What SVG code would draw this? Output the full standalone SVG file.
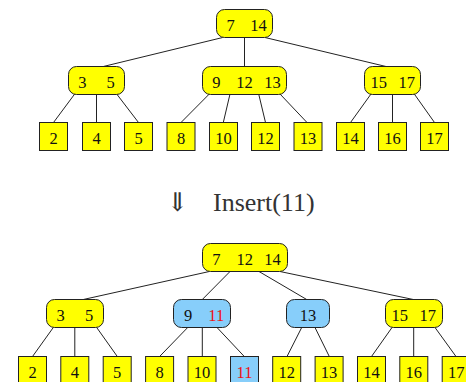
<svg xmlns="http://www.w3.org/2000/svg" width="466" height="382" viewBox="0 0 466 382">
  <style>
    .yel { fill: #ffff00; stroke: #222; stroke-width: 1; }
    .blu { fill: #87cefa; stroke: #222; stroke-width: 1; }
    .k { font-family: "Liberation Serif", "Times New Roman", serif; font-size: 16.5px; fill: #111; text-anchor: middle; }
    .red { fill: #ee1111; }
    .edge { stroke: #222; stroke-width: 1; fill: none; }
    .cap { font-family: "Liberation Serif", "DejaVu Serif", serif; font-size: 26px; fill: #333; }
  </style>

  <!-- ===== Tree before insertion ===== -->
  <g id="edges-before" class="edge">
    <line x1="222.7" y1="37.5" x2="103.3" y2="66.5"/>
    <line x1="244.5" y1="37.5" x2="244.5" y2="66.5"/>
    <line x1="265" y1="37.5" x2="386" y2="66.5"/>
    <line x1="74.7" y1="94" x2="53.5" y2="122.5"/>
    <line x1="96.5" y1="94" x2="96.5" y2="122.5"/>
    <line x1="116.7" y1="94" x2="138.5" y2="122.5"/>
    <line x1="209.3" y1="94" x2="181" y2="122.5"/>
    <line x1="230" y1="94" x2="223.3" y2="122.5"/>
    <line x1="258.7" y1="94" x2="265.5" y2="122.5"/>
    <line x1="280" y1="94" x2="307" y2="122.5"/>
    <line x1="371" y1="94" x2="350.5" y2="122.5"/>
    <line x1="392.5" y1="94" x2="392.5" y2="122.5"/>
    <line x1="414.3" y1="94" x2="434.5" y2="122.5"/>
  </g>

  <g id="b-root">
    <rect class="yel" x="216.5" y="9.5" width="56" height="28" rx="8"/>
    <text class="k" x="230.5" y="30.8">7</text>
    <text class="k" x="258.5" y="30.8">14</text>
  </g>
  <g id="b-n1">
    <rect class="yel" x="68.5" y="66.5" width="56" height="28" rx="8"/>
    <text class="k" x="82.3" y="87.6">3</text>
    <text class="k" x="110.5" y="87.6">5</text>
  </g>
  <g id="b-n2">
    <rect class="yel" x="202.5" y="66.5" width="84" height="28" rx="8"/>
    <text class="k" x="216.3" y="87.6">9</text>
    <text class="k" x="244.5" y="87.6">12</text>
    <text class="k" x="272.5" y="87.6">13</text>
  </g>
  <g id="b-n3">
    <rect class="yel" x="364.5" y="66.5" width="56" height="28" rx="8"/>
    <text class="k" x="378.7" y="87.6">15</text>
    <text class="k" x="406.7" y="87.6">17</text>
  </g>

  <g id="b-l2"><rect class="yel" x="39.5" y="122.5" width="28" height="28"/><text class="k" x="53.5" y="143.6">2</text></g>
  <g id="b-l4"><rect class="yel" x="82.5" y="122.5" width="28" height="28"/><text class="k" x="96.5" y="143.6">4</text></g>
  <g id="b-l5"><rect class="yel" x="124.5" y="122.5" width="28" height="28"/><text class="k" x="138.5" y="143.6">5</text></g>
  <g id="b-l8"><rect class="yel" x="167" y="122.5" width="28" height="28"/><text class="k" x="181" y="143.6">8</text></g>
  <g id="b-l10"><rect class="yel" x="209.5" y="122.5" width="28" height="28"/><text class="k" x="223.5" y="143.6">10</text></g>
  <g id="b-l12"><rect class="yel" x="251.5" y="122.5" width="28" height="28"/><text class="k" x="265.5" y="143.6">12</text></g>
  <g id="b-l13"><rect class="yel" x="294" y="122.5" width="28" height="28"/><text class="k" x="308" y="143.6">13</text></g>
  <g id="b-l14"><rect class="yel" x="336.5" y="122.5" width="28" height="28"/><text class="k" x="350.5" y="143.6">14</text></g>
  <g id="b-l16"><rect class="yel" x="378.5" y="122.5" width="28" height="28"/><text class="k" x="392.5" y="143.6">16</text></g>
  <g id="b-l17"><rect class="yel" x="420.5" y="122.5" width="28" height="28"/><text class="k" x="434.5" y="143.6">17</text></g>

  <!-- ===== Operation caption ===== -->
  <g id="caption">
    <text class="cap" x="177.5" y="210.5" text-anchor="middle">⇓</text>
    <text class="cap" x="213" y="210.7">Insert(11)</text>
  </g>

  <!-- ===== Tree after insertion ===== -->
  <g id="edges-after" class="edge">
    <line x1="209.3" y1="271.5" x2="83.3" y2="299.5"/>
    <line x1="230" y1="271.5" x2="202.3" y2="299.5"/>
    <line x1="259" y1="271.5" x2="306.7" y2="299.5"/>
    <line x1="280" y1="271.5" x2="413.3" y2="299.5"/>
    <line x1="53.3" y1="327.5" x2="32.5" y2="356.5"/>
    <line x1="74.8" y1="327.5" x2="74.8" y2="356.5"/>
    <line x1="96.7" y1="327.5" x2="117.3" y2="356.5"/>
    <line x1="187.7" y1="327.5" x2="159.6" y2="356.5"/>
    <line x1="202.3" y1="327.5" x2="202.3" y2="356.5"/>
    <line x1="217" y1="327.5" x2="244.3" y2="356.5"/>
    <line x1="301.7" y1="327.5" x2="287" y2="356.5"/>
    <line x1="315" y1="327.5" x2="329.3" y2="356.5"/>
    <line x1="392" y1="327.5" x2="371.5" y2="356.5"/>
    <line x1="413.7" y1="327.5" x2="413.7" y2="356.5"/>
    <line x1="435" y1="327.5" x2="456" y2="356.5"/>
  </g>

  <g id="a-root">
    <rect class="yel" x="202.5" y="243.5" width="85" height="28" rx="8"/>
    <text class="k" x="216.3" y="264.8">7</text>
    <text class="k" x="244.8" y="264.8">12</text>
    <text class="k" x="272.5" y="264.8">14</text>
  </g>
  <g id="a-n1">
    <rect class="yel" x="46.5" y="299.5" width="57" height="28" rx="8"/>
    <text class="k" x="60.7" y="320.8">3</text>
    <text class="k" x="89" y="320.8">5</text>
  </g>
  <g id="a-n2">
    <rect class="blu" x="173.5" y="299.5" width="57" height="28" rx="8"/>
    <text class="k" x="188" y="320.8">9</text>
    <text class="k red" x="216.3" y="320.8">11</text>
  </g>
  <g id="a-n3">
    <rect class="blu" x="286.5" y="299.5" width="43" height="28" rx="8"/>
    <text class="k" x="308" y="320.8">13</text>
  </g>
  <g id="a-n4">
    <rect class="yel" x="385.5" y="299.5" width="57" height="28" rx="8"/>
    <text class="k" x="399.7" y="320.8">15</text>
    <text class="k" x="427.8" y="320.8">17</text>
  </g>

  <g id="a-l2"><rect class="yel" x="18.5" y="356.5" width="28" height="28"/><text class="k" x="32.5" y="377.6">2</text></g>
  <g id="a-l4"><rect class="yel" x="60.8" y="356.5" width="28" height="28"/><text class="k" x="74.8" y="377.6">4</text></g>
  <g id="a-l5"><rect class="yel" x="103.2" y="356.5" width="28" height="28"/><text class="k" x="117.2" y="377.6">5</text></g>
  <g id="a-l8"><rect class="yel" x="145.6" y="356.5" width="28" height="28"/><text class="k" x="159.6" y="377.6">8</text></g>
  <g id="a-l10"><rect class="yel" x="188" y="356.5" width="28" height="28"/><text class="k" x="202" y="377.6">10</text></g>
  <g id="a-l11"><rect class="blu" x="230.5" y="356.5" width="28" height="28"/><text class="k red" x="244.5" y="377.6">11</text></g>
  <g id="a-l12"><rect class="yel" x="272.7" y="356.5" width="28" height="28"/><text class="k" x="286.7" y="377.6">12</text></g>
  <g id="a-l13"><rect class="yel" x="315.1" y="356.5" width="28" height="28"/><text class="k" x="329.1" y="377.6">13</text></g>
  <g id="a-l14"><rect class="yel" x="357.5" y="356.5" width="28" height="28"/><text class="k" x="371.5" y="377.6">14</text></g>
  <g id="a-l16"><rect class="yel" x="399.8" y="356.5" width="28" height="28"/><text class="k" x="413.8" y="377.6">16</text></g>
  <g id="a-l17"><rect class="yel" x="442.2" y="356.5" width="28" height="28"/><text class="k" x="456.2" y="377.6">17</text></g>
</svg>
